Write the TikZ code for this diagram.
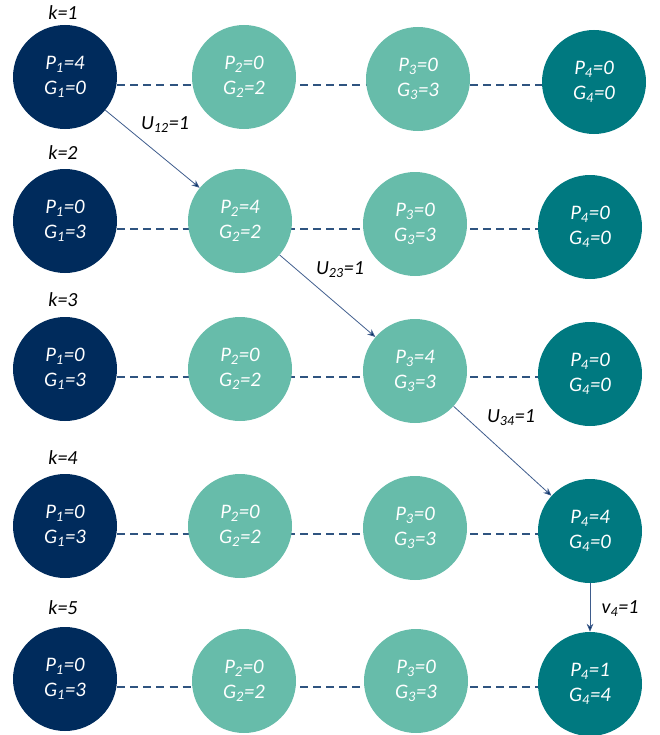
\documentclass[tikz,border=0pt]{standalone}
\usepackage{fontspec}
\setmainfont{Carlito}
\usepackage{tikz}
\usepackage{xcolor}
\usetikzlibrary{arrows.meta}
\usetikzlibrary{backgrounds}

\definecolor{navy}{RGB}{0,43,92}
\definecolor{lightteal}{RGB}{103,188,170}
\definecolor{darkteal}{RGB}{0,121,128}
\definecolor{dashblue}{RGB}{47,84,128}
\definecolor{arrowblue}{RGB}{62,92,140}

\begin{document}
\begin{tikzpicture}[x=0.75pt,y=0.75pt,yscale=-1,xscale=1,
  bus/.style={circle,minimum size=78pt,inner sep=0pt,text=white,align=center,
    font=\itshape\fontsize{15.5}{19}\selectfont},
  slack/.style={bus,fill=navy},
  mid/.style={bus,fill=lightteal},
  storage/.style={bus,fill=darkteal},
  lbl/.style={inner sep=0.75pt,font=\itshape\fontsize{15}{17}\selectfont},
  link/.style={draw=dashblue,line width=1.3pt,dash pattern=on 6pt off 3.8pt},
  flow/.style={draw=arrowblue,line width=0.6pt,-{Stealth[length=6pt,width=5pt,fill=navy]}}]
\path[use as bounding box] (0,0) rectangle (660,735);

% k = 1
\node[lbl] (k1) at (63,13) {k=1};
\node[slack] (r1c1) at (65,77) {P\textsubscript{1}=4\\G\textsubscript{1}=0};
\node[mid] (r1c2) at (244,77) {P\textsubscript{2}=0\\G\textsubscript{2}=2};
\node[mid] (r1c3) at (418,79) {P\textsubscript{3}=0\\G\textsubscript{3}=3};
\node[storage] (r1c4) at (594,82) {P\textsubscript{4}=0\\G\textsubscript{4}=0};

% k = 2
\node[lbl] (k2) at (63,153) {k=2};
\node[slack] (r2c1) at (65,221) {P\textsubscript{1}=0\\G\textsubscript{1}=3};
\node[mid] (r2c2) at (240,221) {P\textsubscript{2}=4\\G\textsubscript{2}=2};
\node[mid] (r2c3) at (415,224) {P\textsubscript{3}=0\\G\textsubscript{3}=3};
\node[storage] (r2c4) at (590,227) {P\textsubscript{4}=0\\G\textsubscript{4}=0};

% k = 3
\node[lbl] (k3) at (63,300) {k=3};
\node[slack] (r3c1) at (65,369) {P\textsubscript{1}=0\\G\textsubscript{1}=3};
\node[mid] (r3c2) at (240,369) {P\textsubscript{2}=0\\G\textsubscript{2}=2};
\node[mid] (r3c3) at (415,371) {P\textsubscript{3}=4\\G\textsubscript{3}=3};
\node[storage] (r3c4) at (590,374) {P\textsubscript{4}=0\\G\textsubscript{4}=0};

% k = 4
\node[lbl] (k4) at (63,458) {k=4};
\node[slack] (r4c1) at (65,526) {P\textsubscript{1}=0\\G\textsubscript{1}=3};
\node[mid] (r4c2) at (240,526) {P\textsubscript{2}=0\\G\textsubscript{2}=2};
\node[mid] (r4c3) at (415,528) {P\textsubscript{3}=0\\G\textsubscript{3}=3};
\node[storage] (r4c4) at (590,531) {P\textsubscript{4}=4\\G\textsubscript{4}=0};

% k = 5
\node[lbl] (k5) at (63,608) {k=5};
\node[slack] (r5c1) at (65,679) {P\textsubscript{1}=0\\G\textsubscript{1}=3};
\node[mid] (r5c2) at (244,681) {P\textsubscript{2}=0\\G\textsubscript{2}=2};
\node[mid] (r5c3) at (416,681) {P\textsubscript{3}=0\\G\textsubscript{3}=3};
\node[storage] (r5c4) at (590,684) {P\textsubscript{4}=1\\G\textsubscript{4}=4};

% dashed ties, behind the circles
\begin{scope}[on background layer]
\draw[link] ([yshift=6pt]r1c1.center) -- ([yshift=6pt]r1c1.center -| r1c4.center);
\draw[link] ([yshift=6pt]r2c1.center) -- ([yshift=6pt]r2c1.center -| r2c4.center);
\draw[link] ([yshift=6pt]r3c1.center) -- ([yshift=6pt]r3c1.center -| r3c4.center);
\draw[link] ([yshift=6pt]r4c1.center) -- ([yshift=6pt]r4c1.center -| r4c4.center);
\draw[link] ([yshift=6pt]r5c1.center) -- ([yshift=6pt]r5c1.center -| r5c4.center);
\end{scope}

% transfers
\draw[flow] (r1c1) -- (r2c2);
\node[lbl] (u12) at (165,125) {U\textsubscript{12}=1};
\draw[flow] (r2c2) -- (r3c3);
\node[lbl] (u23) at (340,270) {U\textsubscript{23}=1};
\draw[flow] (r3c3) -- (r4c4);
\node[lbl] (u34) at (511,418) {U\textsubscript{34}=1};
\draw[flow] (r4c4) -- (r5c4);
\node[lbl] (v4) at (620,609) {v\textsubscript{4}=1};

\end{tikzpicture}
\end{document}
